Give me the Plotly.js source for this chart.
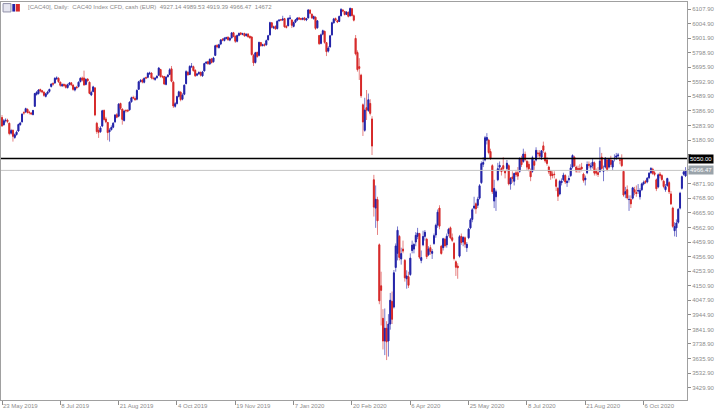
<!DOCTYPE html>
<html>
<head>
<meta charset="utf-8">
<script src="https://cdn.plot.ly/plotly-3.0.1.min.js"></script>
<style>
  html, body { margin: 0; padding: 0; background: #ffffff; }
  #chart { width: 720px; height: 414px; }
</style>
</head>
<body>
<div id="chart"></div>
<script>
// Daily bars, 23 May 2019 .. 6 Nov 2020 (one value per trading day)
var openP = [
5340,5290,5318,5322,5300,5230,5250,5200,5220,5245,
5290,5310,5375,5380,5398,5378,5372,5362,5420,5505,
5510,5538,5530,5520,5490,5510,5525,5560,5580,5585,
5615,5618,5590,5565,5575,5570,5552,5575,5586,5570,
5535,5556,5560,5595,5620,5620,5575,5612,5590,5500,
5525,5550,5300,5250,5240,5280,5390,5330,5305,5240,
5255,5272,5310,5360,5350,5440,5400,5320,5390,5392,
5395,5452,5482,5475,5470,5540,5595,5606,5590,5622,
5625,5650,5655,5618,5610,5622,5640,5680,5630,5630,
5575,5630,5645,5685,5590,5420,5440,5490,5520,5470,
5505,5580,5660,5645,5700,5700,5675,5640,5650,5660,
5635,5670,5725,5735,5720,5755,5735,5780,5850,5835,
5860,5895,5885,5900,5908,5888,5905,5940,5915,5880,
5922,5938,5930,5935,5920,5930,5915,5910,5780,5730,
5800,5780,5870,5850,5856,5855,5890,5925,6010,5975,
5985,5970,6025,6032,6030,6040,5985,5990,6040,6030,
5985,6015,6030,6045,6040,6035,6045,6030,6045,6100,
6070,6040,6050,5975,5920,5865,5930,5950,5870,5810,
5840,5925,6010,6040,6025,6020,6060,6100,6090,6070,
6085,6060,6110,6060,5900,5800,5700,5640,5430,5250,
5410,5390,5440,5330,4900,4700,4760,4440,4150,3920,
3760,3850,3760,3880,4040,4000,4280,4380,4500,4340,
4410,4330,4200,4215,4230,4400,4410,4460,4500,4520,
4330,4440,4500,4480,4370,4420,4380,4450,4510,4580,
4700,4430,4420,4480,4440,4520,4560,4490,4450,4320,
4290,4360,4500,4460,4490,4420,4490,4560,4620,4700,
4730,4720,4770,4880,5010,5040,5180,5180,5100,5000,
4750,4780,4900,4990,4980,5000,4960,4980,5000,4870,
4920,4890,4950,4950,4960,5050,5030,5080,5030,5010,
4960,4960,5030,5040,5090,5090,5060,5140,5090,5040,
4990,4960,4940,4940,4900,4840,4800,4880,4900,4930,
4880,4900,4930,4990,5060,4990,4980,4980,4990,4940,
4900,4950,5010,4990,5000,5020,4960,4950,4960,5060,
4960,4990,5040,4990,5040,4990,5050,5060,5070,5040,
5050,4960,4800,4830,4760,4760,4770,4830,4810,4820,
4780,4830,4870,4890,4885,4915,4950,4975,4950,4900,
4850,4940,4930,4890,4830,4860,4880,4800,4700,4540,
4560,4600,4700,4840,4940,4927.14
];
var highP = [
5358,5330,5335,5332,5305,5260,5255,5228,5248,5298,
5310,5370,5385,5410,5405,5388,5380,5395,5515,5528,
5542,5545,5536,5525,5515,5530,5545,5582,5590,5625,
5632,5625,5595,5582,5580,5578,5580,5592,5590,5574,
5560,5565,5596,5625,5630,5672,5618,5620,5595,5530,
5565,5555,5310,5275,5280,5395,5398,5345,5310,5265,
5285,5308,5365,5372,5443,5445,5405,5395,5400,5398,
5455,5488,5495,5490,5540,5600,5612,5615,5625,5630,
5660,5665,5660,5630,5628,5640,5698,5685,5640,5635,
5632,5648,5690,5705,5600,5450,5495,5530,5525,5512,
5575,5675,5670,5710,5726,5708,5680,5655,5668,5665,
5670,5728,5738,5742,5758,5762,5770,5855,5860,5862,
5895,5900,5910,5912,5915,5908,5945,5946,5920,5928,
5942,5945,5940,5940,5936,5938,5920,5915,5790,5805,
5808,5878,5875,5862,5866,5892,5925,6018,6015,5990,
5992,6028,6035,6038,6060,6045,5995,6048,6065,6035,
6020,6038,6050,6052,6046,6050,6052,6045,6108,6105,
6078,6062,6055,6030,5925,5935,5962,5955,5875,5845,
5925,6018,6045,6048,6032,6062,6115,6108,6095,6092,
6090,6118,6115,6070,5924,5815,5760,5650,5440,5480,
5535,5510,5470,5350,4935,4860,4780,4450,4250,3985,
3990,3900,3950,4100,4110,4262,4450,4570,4510,4420,
4470,4340,4260,4250,4380,4470,4455,4530,4560,4525,
4400,4540,4545,4490,4430,4440,4410,4520,4590,4690,
4720,4440,4490,4490,4520,4560,4570,4520,4460,4330,
4310,4510,4520,4500,4500,4460,4560,4630,4700,4780,
4740,4780,4870,5030,5060,5210,5230,5190,5120,5010,
4900,4830,5020,5030,4990,5060,4970,5040,5010,4920,
4960,4950,4970,4990,5060,5070,5120,5100,5040,5030,
4980,5070,5040,5130,5110,5110,5110,5170,5100,5060,
5000,4970,4960,4960,4910,4850,4900,4910,4950,4940,
4900,4930,5010,5080,5070,5000,5000,5010,5020,4950,
4930,5030,5030,5020,5050,5030,4980,4990,5130,5090,
5000,5060,5050,5050,5070,5040,5080,5090,5090,5060,
5080,4970,4850,4860,4790,4790,4850,4850,4860,4870,
4840,4880,4895,4900,4920,4955,4990,4985,4965,4910,
4945,4955,4940,4900,4870,4915,4890,4820,4710,4600,
4620,4700,4815,4930,4965,4989.53
];
var lowP = [
5275,5282,5305,5300,5215,5220,5170,5190,5212,5238,
5282,5305,5360,5372,5368,5362,5358,5355,5415,5495,
5502,5518,5512,5488,5482,5500,5515,5552,5565,5578,
5606,5585,5558,5556,5555,5545,5545,5566,5562,5530,
5525,5540,5552,5588,5595,5565,5568,5590,5505,5492,
5518,5350,5225,5196,5232,5272,5318,5300,5180,5170,
5248,5265,5302,5335,5342,5394,5290,5312,5375,5378,
5388,5445,5470,5458,5462,5535,5588,5582,5582,5612,
5618,5642,5610,5605,5600,5615,5635,5622,5618,5570,
5568,5622,5640,5590,5408,5410,5432,5482,5455,5462,
5498,5575,5635,5640,5690,5665,5627,5632,5642,5630,
5628,5665,5718,5712,5712,5722,5728,5775,5830,5828,
5852,5880,5878,5892,5882,5880,5898,5908,5868,5872,
5915,5922,5922,5910,5912,5904,5896,5778,5705,5722,
5762,5772,5840,5842,5842,5848,5885,5920,5970,5966,
5960,5962,6018,6022,6024,5975,5970,5985,6032,5973,
5978,6008,6022,6030,6028,6028,6025,6022,6040,6070,
6038,6032,5960,5968,5853,5858,5922,5862,5775,5800,
5835,5920,6005,6022,6008,6015,6055,6085,6062,6065,
6048,6055,6055,6020,5780,5665,5606,5480,5210,5240,
5323,5380,5355,5075,4640,4560,4510,4020,3870,3700,
3660,3625,3650,3840,3880,3990,4250,4330,4330,4300,
4380,4180,4130,4135,4220,4380,4380,4430,4480,4340,
4310,4430,4470,4340,4360,4370,4340,4440,4490,4560,
4550,4370,4400,4420,4420,4500,4480,4460,4330,4220,
4200,4350,4440,4430,4420,4390,4480,4550,4600,4690,
4660,4700,4760,4870,4990,5030,5150,5080,5040,4800,
4700,4680,4890,4960,4930,4960,4910,4960,4860,4830,
4880,4860,4920,4900,4950,4990,5020,5030,4970,4960,
4890,4950,4970,5030,5060,5050,5040,5090,5020,5000,
4940,4900,4910,4910,4820,4750,4790,4860,4890,4870,
4850,4880,4920,4980,4990,4950,4950,4950,4960,4880,
4860,4940,4980,4970,4980,4930,4930,4920,4950,4970,
4890,4980,4960,4980,4990,4970,5030,5040,5050,5010,
4990,4780,4770,4760,4680,4700,4760,4790,4780,4800,
4760,4820,4860,4870,4875,4905,4940,4935,4925,4820,
4840,4910,4890,4840,4815,4850,4800,4722,4560,4500,
4496,4590,4690,4830,4930,4919.39
];
var closeP = [
5281,5317,5321,5312,5227,5248,5208,5218,5237,5291,
5301,5364,5373,5403,5376,5375,5367,5390,5510,5518,
5535,5528,5522,5498,5508,5521,5539,5577,5577,5618,
5620,5594,5568,5572,5567,5554,5572,5585,5572,5540,
5552,5552,5590,5618,5605,5571,5610,5601,5511,5518,
5557,5359,5241,5236,5266,5388,5327,5310,5234,5251,
5270,5300,5358,5343,5435,5406,5327,5386,5388,5387,
5449,5480,5479,5467,5532,5593,5603,5591,5617,5620,
5654,5655,5620,5617,5619,5632,5690,5630,5628,5578,
5626,5640,5678,5597,5422,5438,5488,5522,5467,5499,
5569,5665,5643,5702,5703,5672,5636,5648,5658,5640,
5663,5722,5731,5722,5752,5730,5762,5848,5840,5855,
5889,5889,5901,5905,5891,5901,5939,5915,5880,5920,
5935,5930,5932,5919,5929,5912,5905,5786,5727,5798,
5772,5871,5849,5854,5851,5884,5919,6011,5979,5980,
5968,6021,6029,6030,6037,5982,5978,6042,6044,5993,
6012,6031,6044,6037,6036,6041,6032,6039,6101,6078,
6045,6054,5971,6024,5863,5925,5954,5872,5806,5832,
5918,6010,6038,6030,6016,6055,6104,6094,6069,6086,
6056,6112,6062,6029,5791,5679,5688,5495,5309,5393,
5393,5466,5370,5139,4707,4762,4610,4044,4118,3760,
3850,3754,3880,4048,3914,4242,4432,4543,4351,4378,
4396,4207,4220,4154,4346,4438,4442,4507,4523,4353,
4350,4499,4529,4357,4411,4393,4393,4505,4578,4671,
4572,4379,4483,4433,4501,4550,4490,4472,4344,4282,
4278,4498,4457,4493,4445,4444,4551,4617,4688,4714,
4695,4763,4858,5015,5022,5197,5199,5093,5052,4816,
4839,4815,4978,5002,4958,4979,4949,5017,4871,4910,
4909,4945,4936,4926,5049,5007,5082,5043,4990,4978,
4921,5056,5003,5108,5085,5069,5105,5109,5033,5016,
4956,4928,4930,4937,4854,4784,4889,4890,4933,4885,
4889,4909,4984,5072,4999,4962,4972,4971,4977,4896,
4912,5008,5002,4998,5024,4947,4947,4938,5032,4980,
4965,5053,4973,5043,5009,5034,5052,5068,5075,5039,
5000,4792,4816,4772,4761,4730,4843,4813,4803,4824,
4824,4871,4882,4882,4911,4946,4980,4946,4938,4837,
4935,4929,4902,4853,4851,4909,4816,4730,4571,4569,
4594,4691,4805,4922,4956,4966.47
];

// Date labels along the bottom, at bar positions
var tickBars = [0, 32, 64, 96, 128, 160, 192, 224, 256, 288, 320, 352];
var tickLabels = ['23 May 2019', '8 Jul 2019', '21 Aug 2019', '4 Oct 2019', '19 Nov 2019', '7 Jan 2020',
                  '20 Feb 2020', '6 Apr 2020', '25 May 2020', '8 Jul 2020', '21 Aug 2020', '6 Oct 2020'];

// Price scale labels (5077.90 and 4974.90 sit under the two price boxes, so only their ticks show)
var priceTicks = [6107.9, 6004.9, 5901.9, 5798.9, 5695.9, 5592.9, 5489.9, 5386.9, 5283.9, 5180.9,
                  5077.9, 4974.9, 4871.9, 4768.9, 4665.9, 4562.9, 4459.9, 4356.9, 4253.9, 4150.9,
                  4047.9, 3944.9, 3841.9, 3738.9, 3635.9, 3532.9, 3429.9];
var hiddenTicks = [5077.9, 4974.9];

var levelLine = 5050.00;
var bidPrice = 4966.47;
var headerText = '[CAC40], Daily:  CAC40 Index CFD, cash (EUR)  4927.14 4989.53 4919.39 4966.47  14672';

var barIdx = closeP.map(function (_, i) { return i; });
var bodyHigh = closeP.map(function (c, i) { return Math.max(c, openP[i]); });
var bodyLow = closeP.map(function (c, i) { return Math.min(c, openP[i]); });

var BLUE = '#2424a8', RED = '#d62a2a';
var axisGray = '#8c8c8c';
var tickFont = { family: 'Liberation Sans, Arial, sans-serif', size: 6, color: axisGray };

var wicks = {
  type: 'candlestick', x: barIdx, open: openP, high: highP, low: lowP, close: closeP,
  increasing: { line: { color: '#7878cc', width: 1 }, fillcolor: '#7878cc' },
  decreasing: { line: { color: '#e68282', width: 1 }, fillcolor: '#e68282' },
  whiskerwidth: 0, hoverinfo: 'skip', showlegend: false
};
var bodies = {
  type: 'candlestick', x: barIdx, open: openP, high: bodyHigh, low: bodyLow, close: closeP,
  increasing: { line: { color: BLUE, width: 1 }, fillcolor: BLUE },
  decreasing: { line: { color: RED, width: 1 }, fillcolor: RED },
  whiskerwidth: 0, hoverinfo: 'skip', showlegend: false
};

var layout = {
  width: 720, height: 414,
  margin: { l: 1, r: 33, t: 2, b: 14 },
  paper_bgcolor: '#ffffff', plot_bgcolor: '#ffffff',
  showlegend: false,
  xaxis: {
    range: [-0.55, 375.8], rangeslider: { visible: false },
    tickmode: 'array', tickvals: tickBars, ticktext: tickLabels,
    ticks: 'outside', ticklen: 4, tickcolor: axisGray, tickwidth: 1,
    ticklabelposition: 'outside right', ticklabelstandoff: 0,
    tickfont: tickFont, showgrid: false, zeroline: false,
    showline: true, linecolor: '#a0a0a0', linewidth: 1, mirror: true, fixedrange: true
  },
  yaxis: {
    side: 'right', range: [3342.7, 6157.4],
    tickmode: 'array', tickvals: priceTicks,
    ticktext: priceTicks.map(function (v) { return hiddenTicks.indexOf(v) >= 0 ? '' : v.toFixed(2); }),
    ticks: 'outside', ticklen: 3, tickcolor: axisGray, tickwidth: 1,
    ticklabelstandoff: 0,
    tickfont: tickFont, showgrid: false, zeroline: false,
    showline: true, linecolor: '#a0a0a0', linewidth: 1, mirror: true, fixedrange: true
  },
  shapes: [
    { type: 'line', xref: 'paper', yref: 'y', x0: 0, x1: 1, y0: levelLine, y1: levelLine,
      line: { color: '#000000', width: 1.5 } },
    { type: 'line', xref: 'paper', yref: 'y', x0: 0, x1: 1, y0: bidPrice, y1: bidPrice,
      line: { color: '#c4c4c4', width: 1 } },
    // small toolbar icons at top-left
    { type: 'rect', xref: 'paper', yref: 'paper', x0: 0.003, x1: 0.0145, y0: 0.975, y1: 0.996,
      line: { color: '#9090a8', width: 1 }, fillcolor: '#e6e6f0' },
    { type: 'rect', xref: 'paper', yref: 'paper', x0: 0.0165, x1: 0.0205, y0: 0.976, y1: 0.995,
      line: { width: 0 }, fillcolor: BLUE },
    { type: 'rect', xref: 'paper', yref: 'paper', x0: 0.0215, x1: 0.0275, y0: 0.976, y1: 0.995,
      line: { width: 0 }, fillcolor: RED }
  ],
  annotations: [
    { xref: 'paper', yref: 'paper', x: 0, y: 1, xshift: 25, yshift: -5, xanchor: 'left', yanchor: 'middle',
      text: headerText, showarrow: false,
      font: { family: 'Liberation Sans, Arial, sans-serif', size: 6, color: '#8a8a8a' } },
    { xref: 'paper', yref: 'y', x: 1, y: levelLine, xanchor: 'left', yanchor: 'middle', xshift: 1,
      text: levelLine.toFixed(2), showarrow: false, bgcolor: '#000000', borderpad: 1,
      font: { family: 'Liberation Sans, Arial, sans-serif', size: 6, color: '#ffffff' } },
    { xref: 'paper', yref: 'y', x: 1, y: bidPrice, xanchor: 'left', yanchor: 'middle', xshift: 1,
      text: bidPrice.toFixed(2), showarrow: false, bgcolor: '#9aa3aa', borderpad: 1,
      font: { family: 'Liberation Sans, Arial, sans-serif', size: 6, color: '#ffffff' } }
  ]
};

Plotly.newPlot('chart', [wicks, bodies], layout, { displayModeBar: false, staticPlot: true });
</script>
</body>
</html>
